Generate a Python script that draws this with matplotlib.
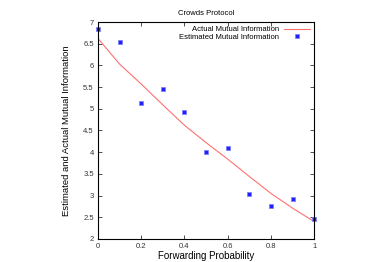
import matplotlib.pyplot as plt
from matplotlib.ticker import FormatStrFormatter, MultipleLocator

plt.rcParams['font.family'] = ['Liberation Sans', 'DejaVu Sans']

# forwarding probability values
prob = [0.0, 0.1, 0.2, 0.3, 0.4, 0.5, 0.6, 0.7, 0.8, 0.9, 1.0]
# actual mutual information (curve)
actual = [6.62, 6.03, 5.57, 5.09, 4.62, 4.22, 3.84, 3.44, 3.05, 2.71, 2.40]
# estimated mutual information (points)
estimated = [6.85, 6.54, 5.13, 5.46, 4.93, 4.00, 4.10, 3.03, 2.76, 2.91, 2.47]

fig = plt.figure(figsize=(3.74, 2.62), dpi=100)
ax = fig.add_axes([0.262, 0.088, 0.578, 0.828])

ax.plot(prob, actual, color='#ff7070', lw=0.8, label='Actual Mutual Information')
ax.plot(prob, estimated, ls='none', marker='s', ms=2.8, mew=0.6, mfc='#2020ff',
        mec='#8080ff', label='Estimated Mutual Information', clip_on=False)

ax.set_xlim(0, 1)
ax.set_ylim(2, 7)
ax.xaxis.set_major_locator(MultipleLocator(0.2))
ax.yaxis.set_major_locator(MultipleLocator(0.5))
ax.xaxis.set_major_formatter(FormatStrFormatter('%g'))
ax.yaxis.set_major_formatter(FormatStrFormatter('%g'))
ax.tick_params(direction='in', top=True, right=True, length=3, width=0.6,
               labelsize=5.5, pad=3, colors='#333333')
for s in ax.spines.values():
    s.set_linewidth(0.8)

ax.set_xlabel('Forwarding Probability', fontsize=7, labelpad=0.5)
ax.set_ylabel('Estimated and Actual Mutual Information', fontsize=6.8, labelpad=9)
ax.set_title('Crowds Protocol', fontsize=5.5, pad=5)

leg = ax.legend(loc='upper right', markerfirst=False, frameon=False, fontsize=5.5,
                handlelength=3.5, labelspacing=0.05, borderaxespad=0.3,
                handletextpad=0.6, borderpad=0.2)

fig.savefig('out.png', dpi=100)
